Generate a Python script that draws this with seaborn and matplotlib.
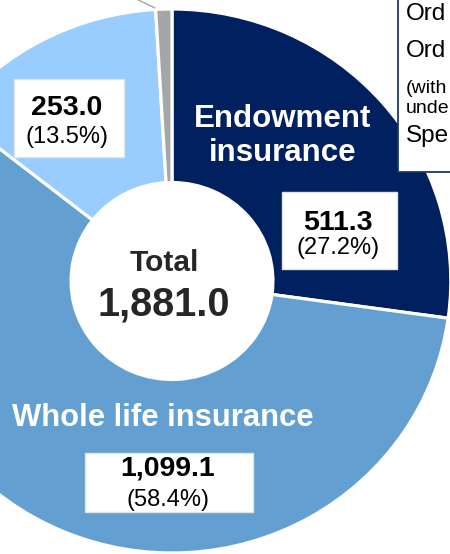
import matplotlib
matplotlib.use("Agg")
import matplotlib.pyplot as plt
import seaborn as sns
from matplotlib.patches import Rectangle

# policy amounts by product (donut slices, clockwise from 12 o'clock)
products = ["Endowment insurance", "Whole life insurance", "Other 1", "Other 2"]
amounts = [511.3, 1099.1, 253.0, 17.6]
shares = ["27.2%", "58.4%", "13.5%", "0.9%"]
total_label = "1,881.0"
value_labels = ["511.3", "1,099.1", "253.0"]
note_lines = ["Ord", "Ord", "(with", "unde", "Spe"]

sns.set_theme(style="white")
plt.rcParams["font.family"] = ["Liberation Sans", "DejaVu Sans"]
colors = sns.color_palette(["#002060", "#639FD1", "#99CCFF", "#A6A6A6"])

W, H = 450, 554
SX = 1.025  # the source donut is a little wider than tall
fig = plt.figure(figsize=(4.5, 5.54), dpi=100)
ax = fig.add_axes([0, 0, 1, 1])

def X(px):
    return px / SX

def Y(py):
    # pixel row (from top) -> axis y
    return H - py

r_out, r_in = 272, 98.5
ax.pie(amounts, colors=colors, startangle=90, counterclock=False,
       center=(X(172), Y(281)), radius=r_out,
       wedgeprops=dict(width=r_out - r_in, edgecolor="white", linewidth=2.3))
ax.set_xlim(0, X(W))
ax.set_ylim(0, H)
ax.set_aspect("auto")
ax.axis("off")

# leader line of the small grey slice
ax.plot([X(128), X(155)], [Y(-5), Y(8)], color="#A6A6A6", lw=1.0)

# slice names
ax.text(X(283), Y(136), "Endowment\ninsurance", color="white", fontsize=22.5,
        fontweight="bold", ha="center", va="center", linespacing=1.15)
ax.text(X(163), Y(418), "Whole life insurance", color="white", fontsize=22.3,
        fontweight="bold", ha="center", va="center")

# value boxes
def value_box(x0, x1, y0, y1, val, pct, yv, yp, xc):
    ax.add_patch(Rectangle((X(x0), Y(y1)), X(x1) - X(x0), y1 - y0, facecolor="white",
                           edgecolor="#E3E3E3", lw=1.0, zorder=3))
    ax.text(X(xc), Y(yv), val, fontsize=20.5, fontweight="bold", ha="center",
            va="center", color="black", zorder=4)
    ax.text(X(xc), Y(yp), "(" + pct + ")", fontsize=17, ha="center",
            va="center", color="black", zorder=4)

value_box(282, 397, 192, 269, value_labels[0], shares[0], 223, 248, 338)
value_box(85, 253, 453, 512, value_labels[1], shares[1], 469, 500, 168)
value_box(14, 124, 79, 157, value_labels[2], shares[2], 108, 137, 67)

# total in the hole
ax.text(X(164), Y(263), "Total", fontsize=21.5, fontweight="bold", ha="center", va="center")
ax.text(X(164), Y(304), total_label, fontsize=28.5, fontweight="bold", ha="center", va="center")

# explanatory box at top right (cut off by the figure edge)
ax.add_patch(Rectangle((X(398), Y(172)), 80, 190, facecolor="white",
                       edgecolor="#1F3864", lw=1.3, zorder=3))
note_sizes = [17.5, 17.5, 14, 14, 17.5]
note_base = [20, 57, 93, 113, 142]
for txt, fs, base in zip(note_lines, note_sizes, note_base):
    ax.text(X(406), Y(base), txt, fontsize=fs, ha="left", va="baseline",
            color="black", zorder=4)

fig.savefig("out.png", dpi=100)
